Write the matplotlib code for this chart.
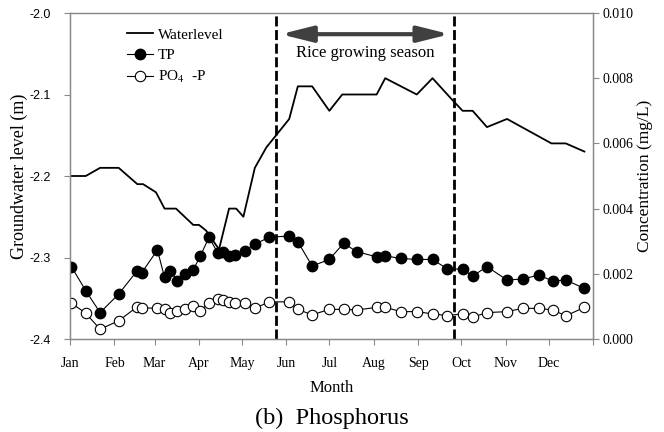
import matplotlib.pyplot as plt
from matplotlib.lines import Line2D
from matplotlib.patches import FancyArrowPatch

# water level (left axis), day of year
wl_day = [1, 11, 21, 34, 47, 51, 60, 66, 74, 86, 90, 95, 104, 111, 116, 121,
          129, 137, 153, 159, 169, 181, 190, 214, 220, 242, 253, 267, 274, 281,
          291, 305, 336, 346, 359]
wl_level = [-2.20, -2.20, -2.19, -2.19, -2.21, -2.21, -2.22, -2.24, -2.24, -2.26,
            -2.26, -2.267, -2.29, -2.24, -2.24, -2.25, -2.19, -2.165, -2.13, -2.09,
            -2.09, -2.12, -2.10, -2.10, -2.08, -2.10, -2.08, -2.107, -2.12, -2.12,
            -2.14, -2.13, -2.16, -2.16, -2.17]

# sampling days for TP / PO4-P
day = [1, 11, 21, 34, 47, 50, 61, 66, 70, 75, 80, 86, 91, 97, 103, 107, 111, 115,
       122, 129, 139, 153, 159, 169, 181, 191, 200, 214, 220, 231, 242, 253, 263,
       274, 281, 291, 305, 316, 327, 337, 346, 359]
tp = [0.00222, 0.00148, 0.00081, 0.00138, 0.00210, 0.00203, 0.00273, 0.00189,
      0.00210, 0.00179, 0.00199, 0.00212, 0.00255, 0.00312, 0.00265, 0.00268,
      0.00255, 0.00259, 0.00271, 0.00291, 0.00312, 0.00316, 0.00298, 0.00224,
      0.00244, 0.00294, 0.00268, 0.00252, 0.00255, 0.00247, 0.00244, 0.00244,
      0.00216, 0.00214, 0.00193, 0.00222, 0.00181, 0.00184, 0.00196, 0.00178,
      0.00181, 0.00155]
po4 = [0.00110, 0.00079, 0.00030, 0.00056, 0.00099, 0.00096, 0.00094, 0.00092,
       0.00081, 0.00086, 0.00092, 0.00101, 0.00087, 0.00111, 0.00123, 0.00120,
       0.00114, 0.00111, 0.00111, 0.00094, 0.00114, 0.00114, 0.00091, 0.00074,
       0.00091, 0.00091, 0.00089, 0.00097, 0.00097, 0.00084, 0.00084, 0.00077,
       0.00072, 0.00077, 0.00067, 0.00081, 0.00084, 0.00094, 0.00094, 0.00089,
       0.00071, 0.00097]

month_start = [0, 31, 59, 90, 120, 151, 181, 212, 243, 273, 304, 334, 365]
month_names = ['Jan', 'Feb', 'Mar', 'Apr', 'May', 'Jun', 'Jul', 'Aug', 'Sep',
               'Oct', 'Nov', 'Dec']
season = [144, 268]

serif = 'Liberation Serif'
plt.rcParams['font.family'] = serif
plt.rcParams['mathtext.fontset'] = 'stix'

fig = plt.figure(figsize=(6.64, 4.32), dpi=100)
ax = fig.add_axes([70 / 664, 1 - 339 / 432, 523 / 664, 326 / 432])
ax2 = ax.twinx()

ax.plot(wl_day, wl_level, color='black', lw=1.3)
ax2.plot(day, tp, color='black', lw=0.8, marker='o', ms=7.5,
         mfc='black', mec='black')
ax2.plot(day, po4, color='black', lw=0.8, marker='o', ms=7.5,
         mfc='white', mec='black', mew=0.8)

for d in season:
    ax.axvline(d, color='black', lw=2, ls=(0, (3.6, 1.3)))

ax.set_xlim(0, 365)
ax.set_ylim(-2.4, -2.0)
ax2.set_ylim(0, 0.010)

ax.set_xticks(month_start)
ax.set_xticklabels(month_names + [''], fontsize=10)
ax.set_yticks([-2.4, -2.3, -2.2, -2.1, -2.0])
ax.set_yticklabels(['-2.4', '-2.3', '-2.2', '-2.1', '-2.0'],
                   fontsize=9, family='Liberation Sans')
ax2.set_yticks([0, 0.002, 0.004, 0.006, 0.008, 0.010])
ax2.set_yticklabels(['0.000', '0.002', '0.004', '0.006', '0.008', '0.010'],
                    fontsize=10)

for a in (ax, ax2):
    for s in a.spines.values():
        s.set_color('#888888')
        s.set_linewidth(0.9)
    a.tick_params(color='#888888', length=4, width=0.8)
ax.tick_params(axis='x', pad=9)
ax.tick_params(axis='y', pad=10)
ax2.tick_params(axis='y', pad=2.5)

ax.set_xlabel('Month', fontsize=12, labelpad=7)
ax.set_ylabel('Groundwater level (m)', fontsize=13, labelpad=1)
ax2.set_ylabel('Concentration (mg/L)', fontsize=12.5, labelpad=3)

# rice growing season arrow
arr = FancyArrowPatch((season[0] + 1, -2.026), (season[1] - 1, -2.026),
                      arrowstyle='<|-|>,head_length=1.6,head_width=0.4',
                      mutation_scale=12, lw=3, color='#404040')
ax.add_patch(arr)
ax.text((season[0] + season[1]) / 2, -2.049, 'Rice growing season',
        ha='center', va='center', fontsize=12)

handles = [
    Line2D([], [], color='black', lw=1.3),
    Line2D([], [], color='black', lw=0.8, marker='o', ms=7.5, mfc='black'),
    Line2D([], [], color='black', lw=0.8, marker='o', ms=7.5, mfc='white', mew=0.8),
]
ax2.legend(handles, ['Waterlevel', 'TP', 'PO$_4$  -P'], loc='upper left',
           bbox_to_anchor=(127 / 664, 1 - 28 / 432), bbox_transform=fig.transFigure,
           frameon=False, fontsize=11, handlelength=1.7, handletextpad=0.3,
           labelspacing=0.45, borderpad=0, borderaxespad=0)

fig.text(332 / 664, 1 - 418 / 432, '(b)  Phosphorus', ha='center', va='center',
         fontsize=17.5, family='Liberation Serif')

fig.savefig('out.png', dpi=100)
